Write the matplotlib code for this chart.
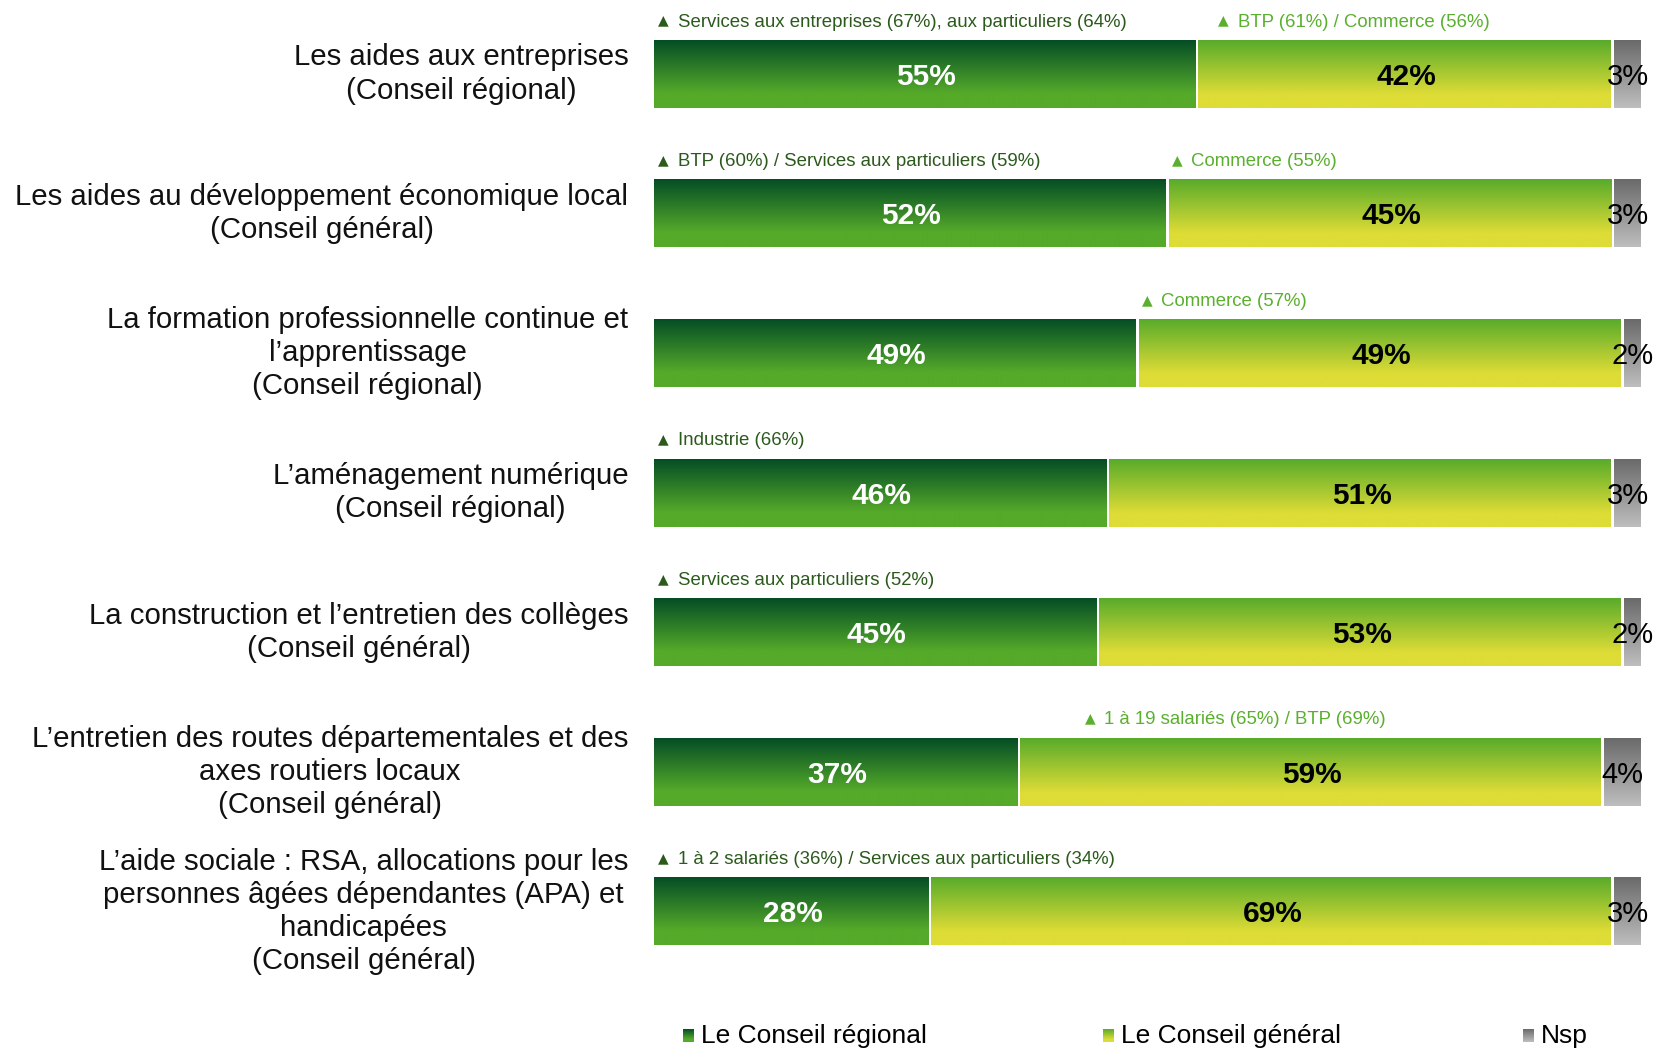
import numpy as np
import matplotlib.pyplot as plt
from matplotlib.colors import LinearSegmentedColormap

plt.rcParams['font.family'] = ['Liberation Sans', 'DejaVu Sans']

# Survey results: who should handle each competence
items = ["Les aides aux entreprises\n(Conseil régional)",
         "Les aides au développement économique local\n(Conseil général)",
         "La formation professionnelle continue et\nl\u2019apprentissage\n(Conseil régional)",
         "L\u2019aménagement numérique\n(Conseil régional)",
         "La construction et l\u2019entretien des collèges\n(Conseil général)",
         "L\u2019entretien des routes départementales et des\naxes routiers locaux\n(Conseil général)",
         "L\u2019aide sociale : RSA, allocations pour les\npersonnes âgées dépendantes (APA) et\nhandicapées\n(Conseil général)"]
regional = [55, 52, 49, 46, 45, 37, 28]
general = [42, 45, 49, 51, 53, 59, 69]
nsp = [3, 3, 2, 3, 2, 4, 3]

# sub-group highlights shown above the bars
notes_reg = ["Services aux entreprises (67%), aux particuliers (64%)",
             "BTP (60%) / Services aux particuliers (59%)",
             "",
             "Industrie (66%)",
             "Services aux particuliers (52%)",
             "",
             "1 à 2 salariés (36%) / Services aux particuliers (34%)"]
notes_gen = ["BTP (61%) / Commerce (56%)",
             "Commerce (55%)",
             "Commerce (57%)",
             "",
             "",
             "1 à 19 salariés (65%) / BTP (69%)",
             ""]
notes_gen_x = [57.0, 52.3, 49.3, 0, 0, 43.5, 0]

legend_labels = ["Le Conseil régional", "Le Conseil général", "Nsp"]

cmap_reg = LinearSegmentedColormap.from_list(
    "reg", [(0, "#044d25"), (0.78, "#55aa2a"), (1, "#55aa2a")])
cmap_gen = LinearSegmentedColormap.from_list(
    "gen", [(0, "#58ab2b"), (0.8, "#dedc36"), (1, "#dedc36")])
cmap_nsp = LinearSegmentedColormap.from_list(
    "nsp", [(0, "#6a6a6a"), (1, "#bebebe")])
grad = np.linspace(0, 1, 256).reshape(-1, 1)

fig = plt.figure(figsize=(16.54, 10.48), dpi=100)
ax = fig.add_axes([0, 0, 1, 1])
ax.axis("off")

h = 0.484
gap = 0.32


def gradient_box(x0, x1, y, hh, cmap):
    # top edge of the box is y - hh/2 because the y axis is inverted
    ax.imshow(grad, cmap=cmap, extent=(x0, x1, y + hh / 2, y - hh / 2),
              aspect="auto", interpolation="bilinear", zorder=2)


for i in range(len(items)):
    segs = [regional[i], general[i], nsp[i]]
    cmaps = [cmap_reg, cmap_gen, cmap_nsp]
    left = 0
    for val, cm in zip(segs, cmaps):
        gradient_box(left, left + val - gap, i, h, cm)
        left += val

    ty = i + 0.02
    ax.text(regional[i] / 2, ty, f"{regional[i]}%", color="white",
            fontsize=21.5, fontweight="bold", ha="center", va="center", zorder=3)
    ax.text(regional[i] + general[i] / 2, ty, f"{general[i]}%", color="black",
            fontsize=21.5, fontweight="bold", ha="center", va="center", zorder=3)
    ax.text(regional[i] + general[i] + nsp[i] / 2 - gap / 2, ty, f"{nsp[i]}%",
            color="black", fontsize=21, ha="center", va="center", zorder=3)

    ax.text(-2.6, i, items[i], fontsize=21.2, ha="right", va="center",
            multialignment="center", linespacing=1.24, color="#111111")

    ny = i - 0.372
    if notes_reg[i]:
        ax.text(0.45, ny - 0.01, "\u25b2", fontsize=10, color="#2b5a1c",
                va="center", family="DejaVu Sans")
        ax.text(2.4, ny, notes_reg[i], fontsize=13.4, color="#2b5a1c", va="center")
    if notes_gen[i]:
        ax.text(notes_gen_x[i], ny - 0.01, "\u25b2", fontsize=10, color="#5ab02e",
                va="center", family="DejaVu Sans")
        ax.text(notes_gen_x[i] + 1.95, ny, notes_gen[i], fontsize=13.4,
                color="#5ab02e", va="center")

# legend drawn by hand with small gradient squares
leg_y = 6.89
for lx, lab, cm in zip([2.95, 45.4, 87.8], legend_labels, [cmap_reg, cmap_gen, cmap_nsp]):
    gradient_box(lx, lx + 1.1, leg_y, 0.09, cm)
    ax.text(lx + 1.75, leg_y, lab, fontsize=19, va="center",
            family=["Liberation Sans Narrow", "Liberation Sans", "DejaVu Sans"])

ax.set_xlim(-66.06, 101.01)
ax.set_ylim(6.978, -0.530)

fig.savefig("out.png", dpi=100, facecolor="white")
